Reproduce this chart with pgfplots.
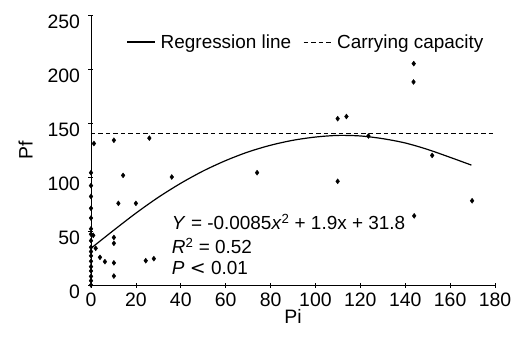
\documentclass[border=0pt]{standalone}
\usepackage{fontspec}
\setmainfont{Liberation Sans}
\usepackage{pgfplots}
\pgfplotsset{compat=1.18}
\begin{document}
\begin{tikzpicture}
\useasboundingbox (-91bp,-52bp) rectangle (428bp,285bp);
\begin{axis}[
  at={(0,0)}, anchor=south west,
  scale only axis, width=404bp, height=270bp,
  xmin=0, xmax=180, ymin=0, ymax=250,
  axis x line*=bottom, axis y line*=left,
  axis line style={line width=0.8bp, -},
  xtick={0,20,...,180}, ytick={0,50,...,250},
  tick align=center, major tick length=5bp,
  tick style={black, line width=0.6bp},
  /pgf/number format/assume math mode=true,
  tick label style={font=\fontsize{19.5}{23}\selectfont},
  yticklabel style={yshift=-7bp, xshift=-5bp},
  xticklabel style={yshift=-2bp},
  xlabel={Pi}, ylabel={Pf},
  label style={font=\fontsize{19.5}{23}\selectfont},
  xlabel style={yshift=4bp},
  ylabel style={yshift=8bp},
  legend columns=2,
  legend style={draw=none, fill=none, at={(0.532,0.9)}, anchor=center,
    font=\fontsize{19}{22}\selectfont, inner sep=0pt,
    /tikz/every odd column/.append style={column sep=3bp},
    /tikz/every even column/.append style={column sep=10bp}},
  legend image code/.code={\draw[#1] (0bp,0bp) -- (28bp,0bp);},
  clip=false,
]
\addplot[black, line width=1.2bp, smooth] coordinates {
(0,34) (10,50.5) (20,66.5) (30,81.2) (40,94.2) (50,105.6) (60,115.2) (70,123.2)
(80,129.4) (90,134) (100,137) (110,138.5) (120,138) (130,135.5) (140,131.5)
(150,125.5) (160,118.2) (169.5,111)};
\addlegendentry{Regression line}
\addplot[black, line width=0.9bp, dash pattern=on 4.5bp off 3bp] coordinates {(0,140) (180,140)};
\addlegendentry{Carrying capacity}
\addplot[only marks, mark=diamond*, mark size=2.5pt, black, forget plot] coordinates {
(0,104) (0,92) (0,82) (0,71) (0,62) (0,52) (0,47) (0,41) (0,35) (0,31) (0,27)
(0,22) (0,17) (0,13) (0,8) (0,4) (0,0)
(1.3,131) (10.2,134) (26,136) (14.3,101.5) (36,100) (12.2,75.6) (20,75.6)
(10.2,44) (10.2,38.6) (10.2,20.5) (10.2,8.3) (4,25.6) (6.2,21.6) (2.1,34)
(24.4,22.5) (28,24.4) (1,46) (74,104) (109.9,154) (113.8,156) (123.6,138)
(152,120) (109.9,96) (169.8,78) (144,64) (143.7,188) (143.8,205)};
\node[anchor=west, inner sep=0pt, font=\fontsize{19}{22}\selectfont] at (axis cs:36,58.3) {\textit{Y} = -0.0085\textit{x}\textsuperscript{2} + 1.9x + 31.8};
\node[anchor=west, inner sep=0pt, font=\fontsize{19}{22}\selectfont] at (axis cs:36,36) {\textit{R}\textsuperscript{2} = 0.52};
\node[anchor=west, inner sep=0pt, font=\fontsize{19}{22}\selectfont] at (axis cs:36,15.7) {\textit{P} {\fontspec{DejaVu Sans}<} 0.01};
\end{axis}
\end{tikzpicture}
\end{document}
